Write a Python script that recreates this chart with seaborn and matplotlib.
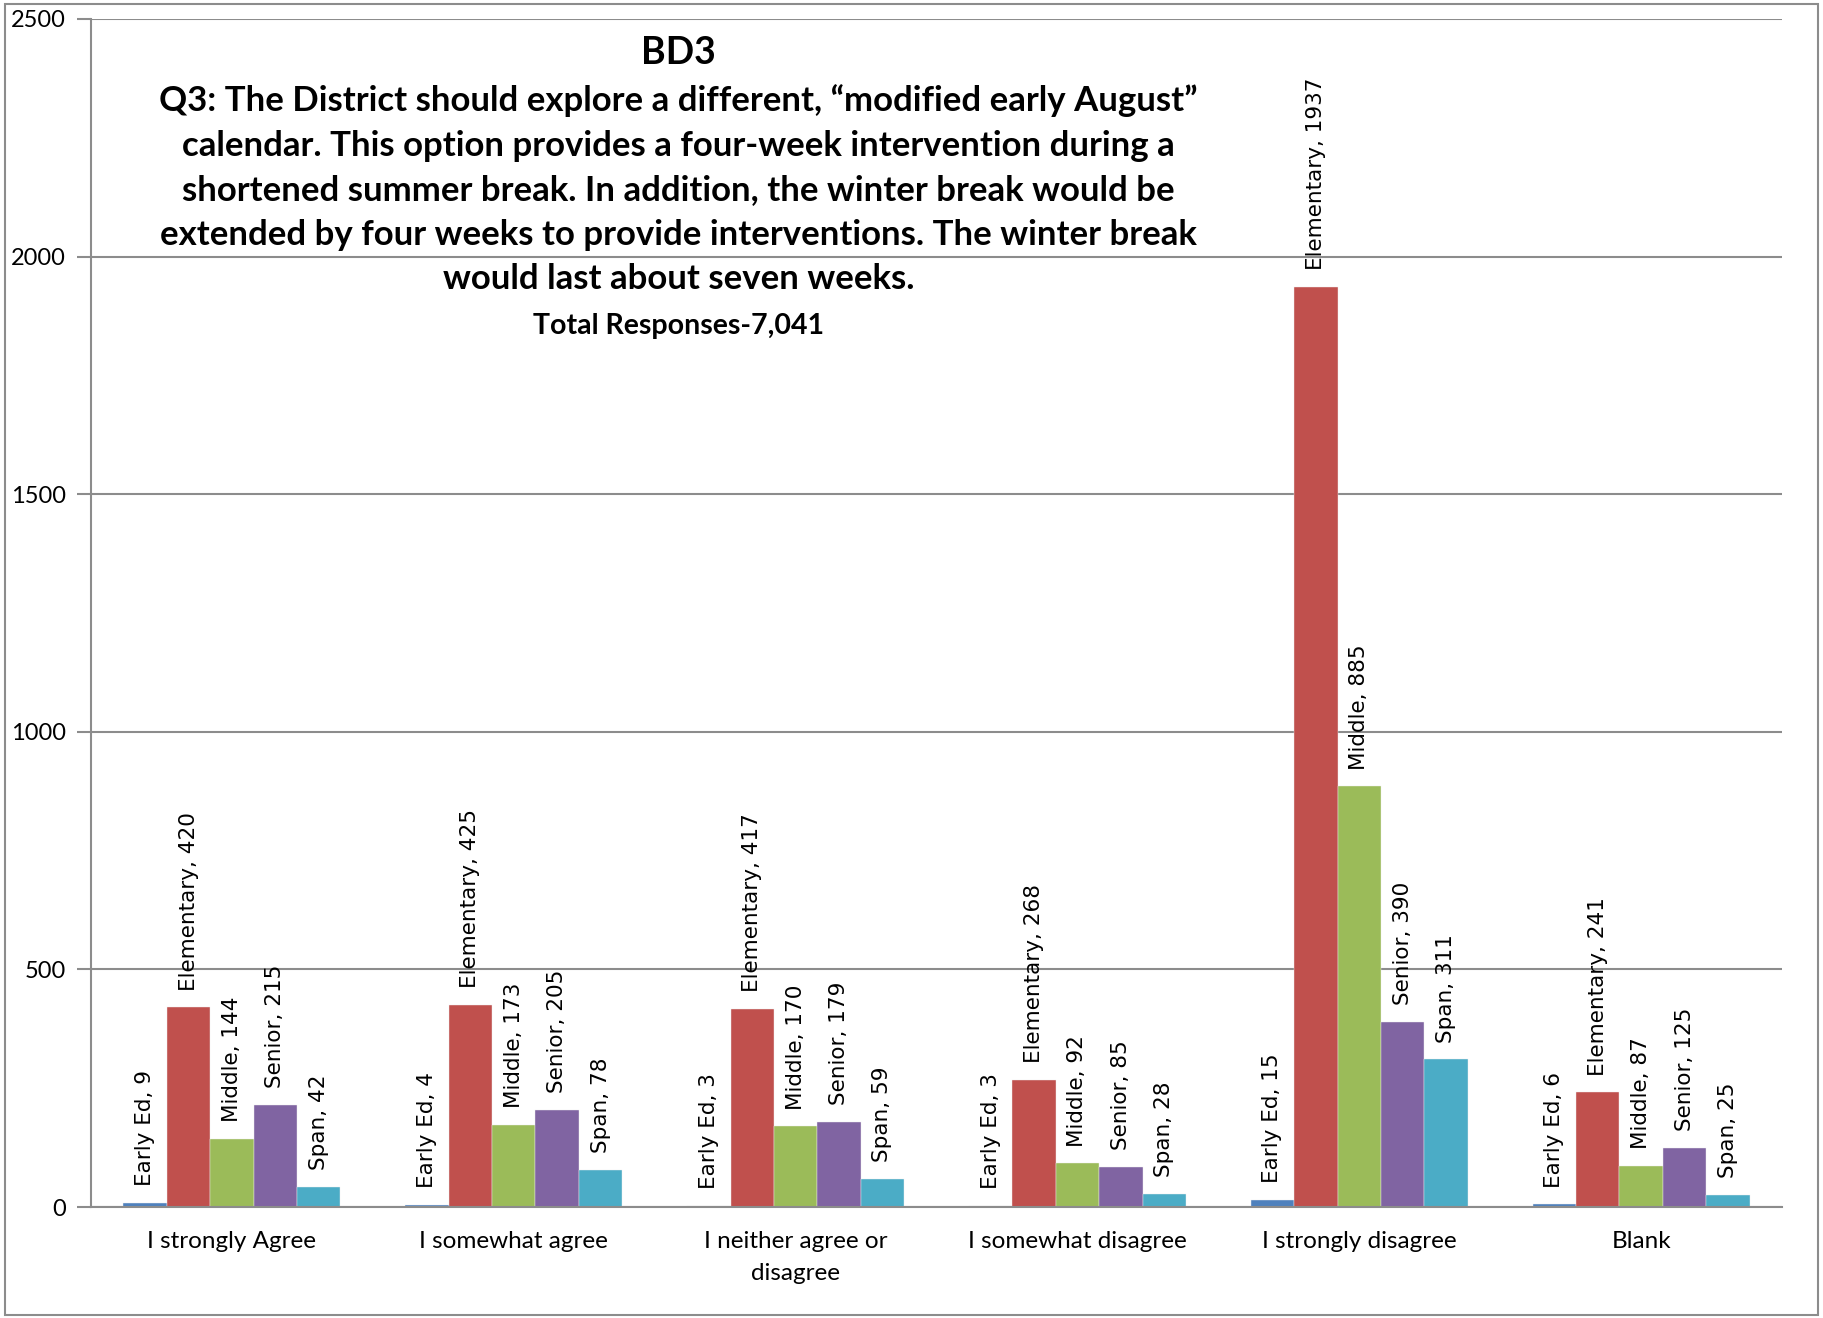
import matplotlib
matplotlib.use("Agg")
import matplotlib.pyplot as plt
import seaborn as sns
import pandas as pd
from matplotlib.patches import Rectangle

categories = ["I strongly Agree", "I somewhat agree", "I neither agree or\ndisagree",
              "I somewhat disagree", "I strongly disagree", "Blank"]
series_names = ["Early Ed", "Elementary", "Middle", "Senior", "Span"]
early_ed = [9, 4, 3, 3, 15, 6]
elementary = [420, 425, 417, 268, 1937, 241]
middle = [144, 173, 170, 92, 885, 87]
senior = [215, 205, 179, 85, 390, 125]
span = [42, 78, 59, 28, 311, 25]
colors = ["#4F81BD", "#C0504D", "#9BBB59", "#8064A2", "#4BACC6"]
yticks = [0, 500, 1000, 1500, 2000, 2500]

title_main = "BD3"
title_body = ("Q3: The District should explore a different, \u201cmodified early August\u201d\n"
              "calendar. This option provides a four-week intervention during a\n"
              "shortened summer break. In addition, the winter break would be\n"
              "extended by four weeks to provide interventions. The winter break\n"
              "would last about seven weeks.")
title_sub = "Total Responses-7,041"

values = [early_ed, elementary, middle, senior, span]
rows = []
for name, vals in zip(series_names, values):
    for cat, v in zip(categories, vals):
        rows.append({"Response": cat, "School": name, "Count": v})
df = pd.DataFrame(rows)

sns.set_theme(style="white")
plt.rcParams["font.family"] = ["Lato", "DejaVu Sans"]
plt.rcParams["text.color"] = "black"
plt.rcParams["xtick.labelcolor"] = "black"
plt.rcParams["ytick.labelcolor"] = "black"

fig = plt.figure(figsize=(18.24, 13.18), dpi=100)
ax = fig.add_axes([0.0499, 0.0842, 0.9271, 0.9014])

sns.barplot(data=df, x="Response", y="Count", hue="School", order=categories,
            hue_order=series_names, palette=colors, saturation=1, width=0.77,
            edgecolor="#EEEEEE", linewidth=0.3, ax=ax, legend=False)

for cont, name in zip(ax.containers, series_names):
    labels = [f"{name}, {int(round(b.get_height()))}" for b in cont]
    ax.bar_label(cont, labels=labels, rotation=90, padding=12,
                 fontsize=15.5, family="DejaVu Sans", color="black")

ax.set_ylim(0, 2500)
ax.set_xlim(-0.5, len(categories) - 0.5)
ax.set_yticks(yticks)
ax.set_yticklabels([str(t) for t in yticks], fontsize=17)
ax.yaxis.grid(True, color="#8C8C8C", linewidth=1.5)
ax.set_axisbelow(True)
ax.set_xlabel("")
ax.set_ylabel("")
ax.tick_params(axis="x", which="major", length=0, labelsize=17.5, pad=17)
for lab in ax.get_xticklabels():
    lab.set_linespacing(1.65)
ax.set_xticks([i - 0.5 for i in range(len(categories) + 1)], minor=True)
ax.tick_params(axis="x", which="minor", length=10, width=1.5, color="#8C8C8C", direction="out")
ax.tick_params(axis="y", length=10, width=1.5, color="#8C8C8C", direction="out", left=True, pad=8)
for s in ["top", "right"]:
    ax.spines[s].set_visible(False)
for s in ["left", "bottom"]:
    ax.spines[s].set_color("#8C8C8C")
    ax.spines[s].set_linewidth(1.5)

fig.text(0.372, 0.960, title_main, ha="center", va="center", fontsize=27, fontweight="bold")
fig.text(0.372, 0.856, title_body, ha="center", va="center", fontsize=25, fontweight="bold",
         linespacing=1.48)
fig.text(0.372, 0.753, title_sub, ha="center", va="center", fontsize=20.5, fontweight="bold")

fig.patches.append(Rectangle((0.0026, 0.002), 0.9942, 0.995, transform=fig.transFigure,
                             fill=False, edgecolor="#8C8C8C", linewidth=1.5))

fig.savefig("out.png", dpi=100)
